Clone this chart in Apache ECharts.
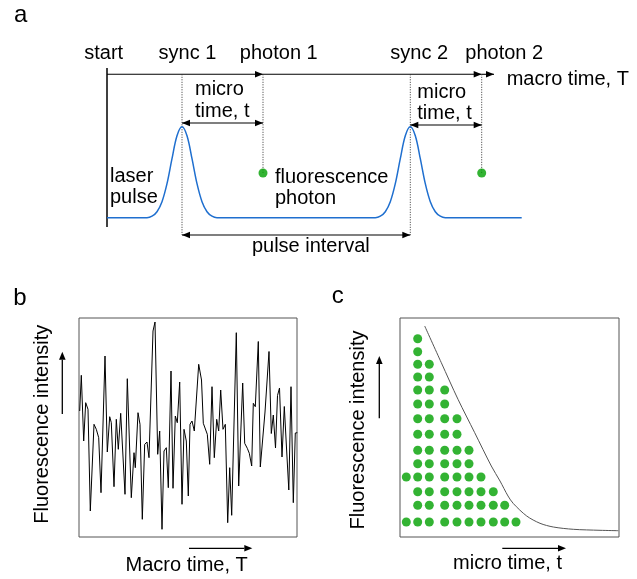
<!DOCTYPE html>
<html><head><meta charset="utf-8">
<script src="https://cdn.jsdelivr.net/npm/echarts@6/dist/echarts.min.js"></script>
<style>html,body{margin:0;padding:0;background:#fff}#chart{width:637px;height:579px}</style>
</head><body><div id="chart"></div>
<script>
// ---------------- Panel a (schematic) ----------------
const syncTimes = [75, 303.3];          // sync 1, sync 2
const photonTimes = [156, 374.7];       // photon 1, photon 2
const macroAxisEnd = 387;
const laserEnd = 414.7;
const baselineLevel = 22.3;
const pulseOffsets = [-35, -30, -25, -20, -15, -10, -5, 0, 5, 10, 15, 20, 25, 30, 35];
const pulseHeights = [0, 1.5, 6, 16, 34, 59, 82, 91, 82, 59, 34, 16, 6, 1.5, 0];
const photonLevel = 67;
const macroArrowLevel = 165.7;
const microArrowLevels = [117, 115];
const intervalLevel = 5;
const startLine = [13, 172];

// ---------------- Panel b (intensity trace) ----------------
const bTime = [0.7,2.3,4.7,6.7,9,11.3,15,17.3,19.7,22,26,28.3,30.7,32.3,35,37.3,39.3,41.7,46,48.3,52.3,55,56.3,59,61,63.3,65.7,68,70,74,76,78.7,80.7,83,85,87.3,89.3,92,94,96.3,98.3,100.7,103,105,107.3,109.3,111,113,115.3,119.7,122.5,124.3,126.3,128.3,130.7,133,135.3,137.7,139.7,141.7,144,146.3,148.7,150.7,152.7,157.3,159.7,163.7,165.7,168.3,170.3,172.7,174.3,176.3,179.3,181.3,186,190,192.3,194.3,196.5,198.5,200.5,203,205.3,207.5,209.8,212,214.3,216.3,218.3];
const bIntensity = [126,161.7,96,134.3,127.7,26,112.7,107.7,99.3,44.3,181,85,120.3,114.3,50.3,117.7,87.7,123.7,42.7,158.3,39.3,84.3,69.3,124.3,112.7,17.7,92.7,95,79.3,206,215,82.7,106,7.7,86,89.3,49.3,166,48.7,121,114.3,155,32.7,107.7,96,41,112.7,116,106,172.7,157,113.7,112.7,102.7,72.7,150.3,79.3,117.7,106,147,107.7,112.7,14.3,69.3,21.7,204.3,51,154,93.7,88.7,83.7,71,133.7,130.3,195.5,70,125,185.5,103.5,122,89,141.5,149,80,130.5,89,47,150.3,34.3,104,104.3];

// ---------------- Panel c (micro time histogram) ----------------
const cBinTime = [6.3, 17.7, 29.3, 44.7, 57, 69, 81, 93.3, 104.7, 116];
const cRowLevel = [15, 31.7, 45.3, 60, 73.3, 86.7, 102.7, 118.3, 133, 147, 160, 172.7, 185.3, 198.3];
const cDotRows = [
  [0, 3],
  [0,1,2,3,4,5,6,7,8,9,10,11,12,13],
  [0,1,2,3,4,5,6,7,8,9,10,11],
  [0,1,2,3,4,5,6,7,8,9],
  [0,1,2,3,4,5,6,7],
  [0,1,2,3,4,5],
  [0,1,2,3],
  [0,1,2],
  [0,1],
  [0]
];
const cCurveTime = [24.7, 41.3, 58, 74.7, 91.3, 100, 108, 113.3, 126.7, 140, 153.3, 173.3, 200, 218.3];
const cCurveLevel = [211, 174.3, 137.7, 104.3, 71, 56, 41, 33.5, 21, 13.7, 10, 7.7, 6.7, 6.3];

// ---------------- build series data ----------------
const laserData = [[0, baselineLevel]];
syncTimes.forEach(s => {
  pulseOffsets.forEach((o, i) => laserData.push([s + o, baselineLevel + pulseHeights[i]]));
});
laserData.push([laserEnd, baselineLevel]);

const photonData = photonTimes.map(t => [t, photonLevel]);

// arrows: [x1,y1,x2,y2,headStart,headEnd,style(0 solid,1 dotted)]
const arrows = [
  [0, startLine[0], 0, startLine[1], 0, 0, 2],
  [0, macroArrowLevel, photonTimes[0], macroArrowLevel, 0, 1, 0],
  [photonTimes[0], macroArrowLevel, photonTimes[1], macroArrowLevel, 0, 1, 0],
  [photonTimes[1], macroArrowLevel, macroAxisEnd, macroArrowLevel, 0, 1, 0],
  [syncTimes[0], macroArrowLevel, syncTimes[0], intervalLevel, 0, 0, 1],
  [syncTimes[1], macroArrowLevel, syncTimes[1], intervalLevel, 0, 0, 1],
  [photonTimes[0], macroArrowLevel, photonTimes[0], photonLevel, 0, 0, 1],
  [photonTimes[1], macroArrowLevel, photonTimes[1], photonLevel, 0, 0, 1],
  [syncTimes[0], microArrowLevels[0], photonTimes[0], microArrowLevels[0], 1, 1, 0],
  [syncTimes[1], microArrowLevels[1], photonTimes[1], microArrowLevels[1], 1, 1, 0],
  [syncTimes[0], intervalLevel, syncTimes[1], intervalLevel, 1, 1, 0]
];

const bData = bTime.map((t, i) => [t, bIntensity[i]]);
const cDots = [];
cDotRows.forEach((rows, ci) => rows.forEach(r => cDots.push([cBinTime[ci], cRowLevel[r]])));
const cCurve = cCurveTime.map((t, i) => [t, cCurveLevel[i]]);

function renderArrow(params, api) {
  const a = api.coord([api.value(0), api.value(1)]);
  const b = api.coord([api.value(2), api.value(3)]);
  const hs = api.value(4), he = api.value(5), kind = api.value(6);
  let style;
  if (kind === 1) style = {stroke: '#333', lineWidth: 1, lineDash: [1, 1.5]};
  else if (kind === 2) style = {stroke: '#000', lineWidth: 1.5};
  else style = {stroke: '#000', lineWidth: 1.1};
  const children = [{type: 'line', shape: {x1: a[0], y1: a[1], x2: b[0], y2: b[1]}, style}];
  const head = (tip, from) => {
    const dx = tip[0] - from[0], dy = tip[1] - from[1];
    const len = Math.hypot(dx, dy) || 1;
    const ux = dx / len, uy = dy / len, L = 8, W = 3.3;
    const bx = tip[0] - ux * L, by = tip[1] - uy * L;
    return {type: 'polygon', shape: {points: [[tip[0], tip[1]], [bx - uy * W, by + ux * W], [bx + uy * W, by - ux * W]]}, style: {fill: '#000'}};
  };
  if (hs) children.push(head(a, b));
  if (he) children.push(head(b, a));
  return {type: 'group', children};
}

const FONT = '"Liberation Sans", Arial, sans-serif';
function txt(text, x, y, align, size, rot) {
  const el = {type: 'text', x, y, silent: true,
    style: {text, font: (size || 20) + 'px ' + FONT, fill: '#000', textAlign: align || 'left', textVerticalAlign: 'middle'}};
  if (rot) el.rotation = rot;
  return el;
}
function axisArrow(x1, y1, x2, y2) {
  const dx = x2 - x1, dy = y2 - y1, len = Math.hypot(dx, dy);
  const ux = dx / len, uy = dy / len, L = 8, W = 3.3;
  const bx = x2 - ux * L, by = y2 - uy * L;
  return [
    {type: 'line', silent: true, shape: {x1, y1, x2: bx, y2: by}, style: {stroke: '#000', lineWidth: 1.3}},
    {type: 'polygon', silent: true, shape: {points: [[x2, y2], [bx - uy * W, by + ux * W], [bx + uy * W, by - ux * W]]}, style: {fill: '#000'}}
  ];
}

const chart = echarts.init(document.getElementById('chart'), null, {renderer: 'canvas'});
chart.setOption({
  animation: false,
  backgroundColor: '#fff',
  grid: [
    {left: 107, top: 60, width: 430, height: 180, show: false},
    {left: 79, top: 318, width: 218, height: 219, show: true, borderColor: '#555', borderWidth: 1},
    {left: 400, top: 318, width: 219, height: 219, show: true, borderColor: '#555', borderWidth: 1}
  ],
  xAxis: [
    {gridIndex: 0, type: 'value', min: 0, max: 430, show: false},
    {gridIndex: 1, type: 'value', min: 0, max: 218, show: false},
    {gridIndex: 2, type: 'value', min: 0, max: 219, show: false}
  ],
  yAxis: [
    {gridIndex: 0, type: 'value', min: 0, max: 180, show: false},
    {gridIndex: 1, type: 'value', min: 0, max: 219, show: false},
    {gridIndex: 2, type: 'value', min: 0, max: 219, show: false}
  ],
  series: [
    {type: 'line', xAxisIndex: 0, yAxisIndex: 0, data: laserData, showSymbol: false, smooth: 0.35, silent: true,
      lineStyle: {color: '#1f6fcf', width: 1.5}},
    {type: 'custom', xAxisIndex: 0, yAxisIndex: 0, data: arrows, renderItem: renderArrow, clip: false, silent: true,
      encode: {x: [0, 2], y: [1, 3]}},
    {type: 'scatter', xAxisIndex: 0, yAxisIndex: 0, data: photonData, symbolSize: 9, silent: true,
      itemStyle: {color: '#00a000'}},
    {type: 'line', xAxisIndex: 1, yAxisIndex: 1, data: bData, showSymbol: false, silent: true,
      lineStyle: {color: '#000', width: 1}},
    {type: 'scatter', xAxisIndex: 2, yAxisIndex: 2, data: cDots, symbolSize: 9, silent: true,
      itemStyle: {color: '#00a000'}},
    {type: 'line', xAxisIndex: 2, yAxisIndex: 2, data: cCurve, showSymbol: false, smooth: 0.3, silent: true,
      lineStyle: {color: '#555', width: 1}}
  ],
  graphic: [
    txt('a', 14, 15, 'left', 24),
    txt('start', 103.7, 53, 'center'),
    txt('sync 1', 187.5, 53, 'center'),
    txt('photon 1', 278.8, 53, 'center'),
    txt('sync 2', 419.2, 53, 'center'),
    txt('photon 2', 504.2, 53, 'center'),
    txt('macro time, T', 506.7, 79, 'left'),
    txt('micro', 195, 89.7, 'left'),
    txt('time, t', 195, 111.3, 'left'),
    txt('micro', 417.3, 92, 'left'),
    txt('time, t', 417.3, 113, 'left'),
    txt('laser', 110, 176.3, 'left'),
    txt('pulse', 110, 197, 'left'),
    txt('fluorescence', 275, 177.3, 'left'),
    txt('photon', 275, 198, 'left'),
    txt('pulse interval', 310.8, 246.3, 'center'),
    txt('b', 13.3, 298, 'left', 24),
    txt('Fluorescence intensity', 42.3, 424.2, 'center', 20, Math.PI / 2),
    txt('Macro time, T', 186.7, 565.7, 'center'),
    txt('c', 331.7, 296, 'left', 24),
    txt('Fluorescence intensity', 358, 430, 'center', 20, Math.PI / 2),
    txt('micro time, t', 507.5, 563, 'center'),
    ...axisArrow(62.3, 414, 62.3, 351.7),
    ...axisArrow(189, 548.3, 252.3, 548.3),
    ...axisArrow(379.3, 418.3, 379.3, 356),
    ...axisArrow(502.3, 548.3, 566, 548.3)
  ]
});
</script></body></html>
